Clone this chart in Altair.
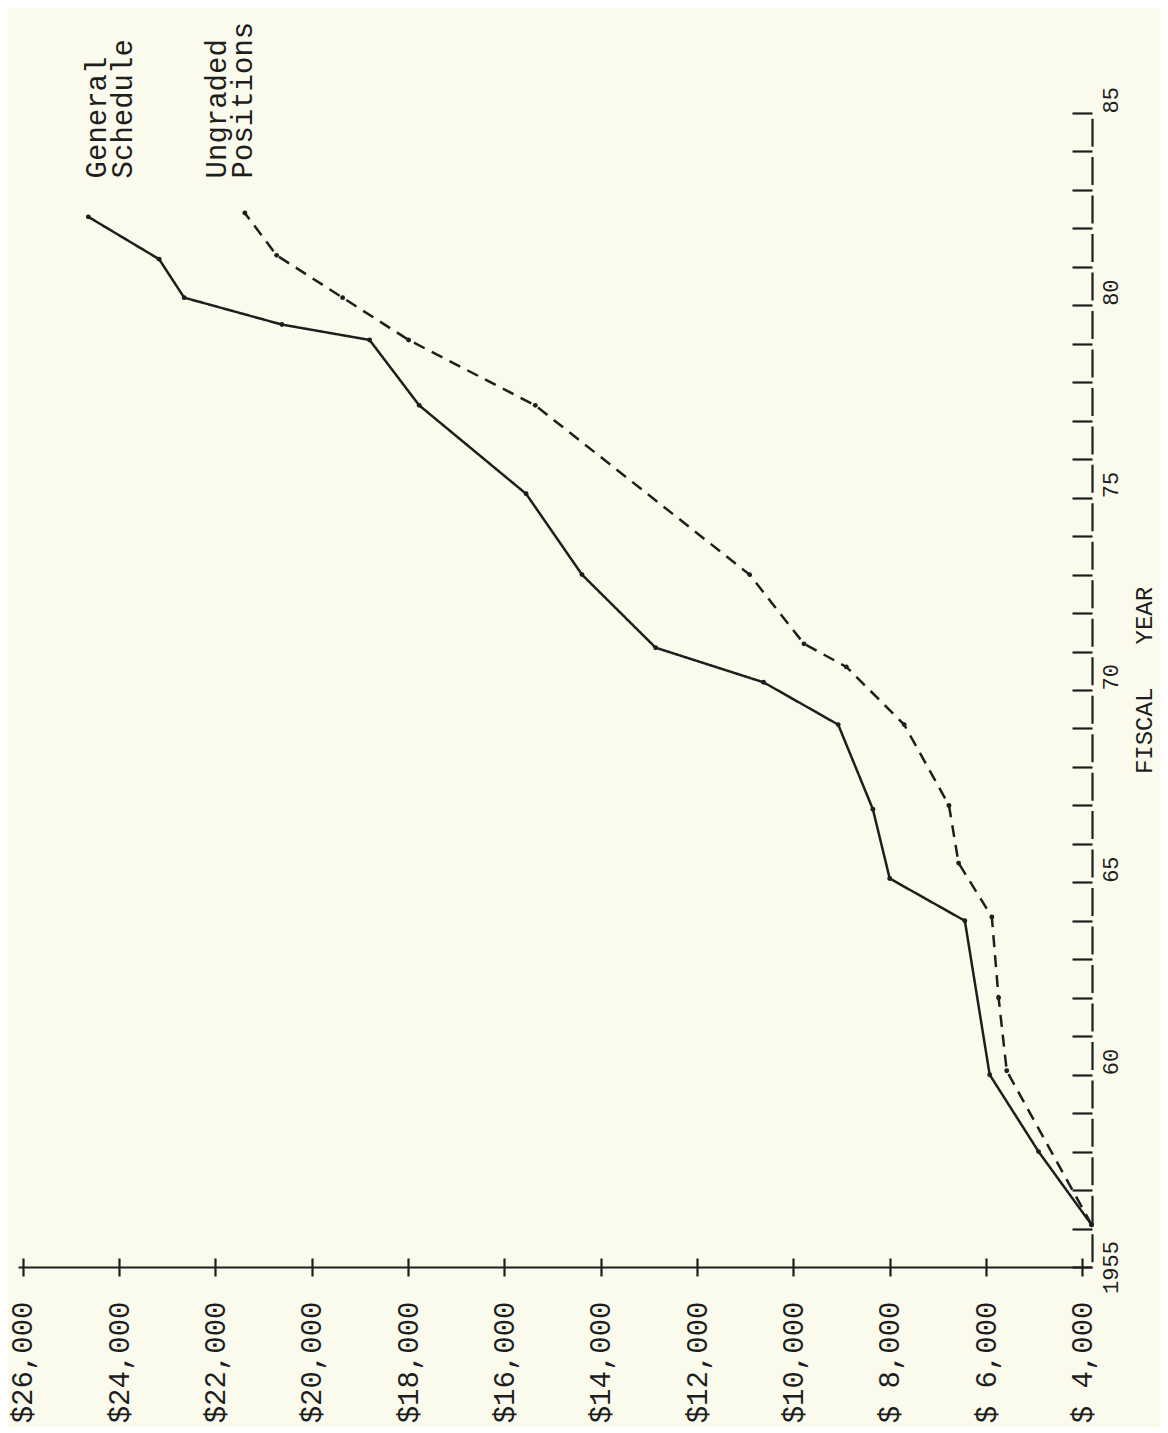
import altair as alt
import pandas as pd

# ---- data ----
gs_year = [1956.1, 1958.0, 1960.0, 1964.0, 1965.1, 1966.9, 1969.1, 1970.2, 1971.1,
           1973.0, 1975.1, 1977.4, 1979.1, 1979.5, 1980.2, 1981.2, 1982.3]
gs_pay = [3810, 4910, 5925, 6440, 8000, 8350, 9070, 10620, 12860,
          14390, 15550, 17770, 18800, 20620, 22650, 23170, 24640]
ug_year = [1956.1, 1960.1, 1962.0, 1964.1, 1965.5, 1967.0, 1969.1, 1970.6, 1971.2,
           1973.0, 1977.4, 1979.1, 1980.2, 1981.3, 1982.4]
ug_pay = [3810, 5570, 5740, 5880, 6570, 6770, 7700, 8900, 9780,
          10910, 15360, 17990, 19360, 20730, 21390]

series_names = ["General Schedule", "Ungraded Positions"]
dollar_ticks = list(range(4000, 26001, 2000))
year_ticks = list(range(1955, 1986))
label_text = ["General\nSchedule", "Ungraded\nPositions"]
label_pay = [24750, 22260]
label_year = [1983.3, 1983.3]

INK = "#1e1e1e"
BG = "#fafbed"
FONT = "Liberation Mono"

rows = []
for y, p in zip(gs_year, gs_pay):
    rows.append({"series": series_names[0], "year": y, "pay": p})
for y, p in zip(ug_year, ug_pay):
    rows.append({"series": series_names[1], "year": y, "pay": p})
df = pd.DataFrame(rows)
lab_df = pd.DataFrame({"label": label_text, "pay": label_pay, "year": label_year})

x_scale = alt.Scale(domain=[3800, 26100], reverse=True, nice=False, zero=False)
y_scale = alt.Scale(domain=[1955, 1985], nice=False, zero=False)

x_axis_main = alt.Axis(
    orient="bottom",
    values=dollar_ticks,
    labelExpr="(datum.value < 10000 ? '$ ' : '$') + format(datum.value, ',')",
    labelAngle=270, labelAlign="right", labelBaseline="middle",
    labelPadding=25, labelFontSize=29, labelFont=FONT, labelColor=INK,
    tickSize=9, tickWidth=2.2, tickColor=INK,
    domainColor=INK, domainWidth=2.2, grid=False,
    labelOverlap=False, labelFlush=False,
)
y_axis_main = alt.Axis(
    orient="right", values=year_ticks, ticks=False, tickSize=0,
    labelExpr="datum.value == 1955 ? '1955' : (datum.value % 5 == 0 ? substring(toString(datum.value), 2) : '')",
    labelAngle=270,
    labelAlign={"condition": {"test": "datum.value == 1955", "value": "center"}, "value": "left"},
    labelBaseline="top", labelPadding=8, labelFontSize=22, labelFont=FONT, labelColor=INK,
    domainColor=INK, domainWidth=2.2, domainDash=[28, 10.47], domainDashOffset=33.24,
    grid=False, labelOverlap=False, labelFlush=False,
    title="FISCAL\u00a0\u00a0\u00a0YEAR", titleFont=FONT, titleFontSize=24,
    titleFontWeight="normal", titleColor=INK, titleAngle=270,
    titleX=52, titleY=567, titleAlign="center", titleBaseline="middle",
)
x_axis_ticks = alt.Axis(orient="bottom", values=dollar_ticks, labels=False, domain=False,
                        tickSize=9, tickWidth=2.2, tickColor=INK, offset=-9, grid=False)
y_axis_ticks = alt.Axis(orient="right", values=year_ticks, labels=False, domain=False,
                        tickSize=20, tickWidth=2.2, tickColor=INK, offset=-20, grid=False)

lines = alt.Chart(df).mark_line(color=INK, strokeWidth=2.5).encode(
    x=alt.X("pay:Q", scale=x_scale, axis=x_axis_main, title=None),
    y=alt.Y("year:Q", scale=y_scale, axis=y_axis_main),
    strokeDash=alt.StrokeDash("series:N",
                              scale=alt.Scale(domain=series_names, range=[[1, 0], [12, 8]]),
                              legend=None),
    order="year:Q",
)
points = alt.Chart(df).mark_circle(color=INK, size=24, opacity=1).encode(
    x=alt.X("pay:Q", scale=x_scale, axis=x_axis_ticks, title=None),
    y=alt.Y("year:Q", scale=y_scale, axis=y_axis_ticks, title=None),
)
labels = alt.Chart(lab_df).mark_text(
    font=FONT, fontSize=29, color=INK, angle=270, align="left", baseline="top",
    lineBreak="\n", lineHeight=26,
).encode(
    x=alt.X("pay:Q", scale=x_scale, axis=None),
    y=alt.Y("year:Q", scale=y_scale, axis=None),
    text="label:N",
)

chart = alt.layer(lines, points, labels).resolve_axis(
    x="independent", y="independent"
).properties(
    width=1074, height=1154,
    autosize=alt.AutoSizeParams(type="none"),
    padding={"left": 10, "top": 105, "right": 68, "bottom": 160},
    background=BG,
).configure_view(stroke="transparent")

chart.save("out.html", embed_options={"renderer": "svg", "actions": False})
